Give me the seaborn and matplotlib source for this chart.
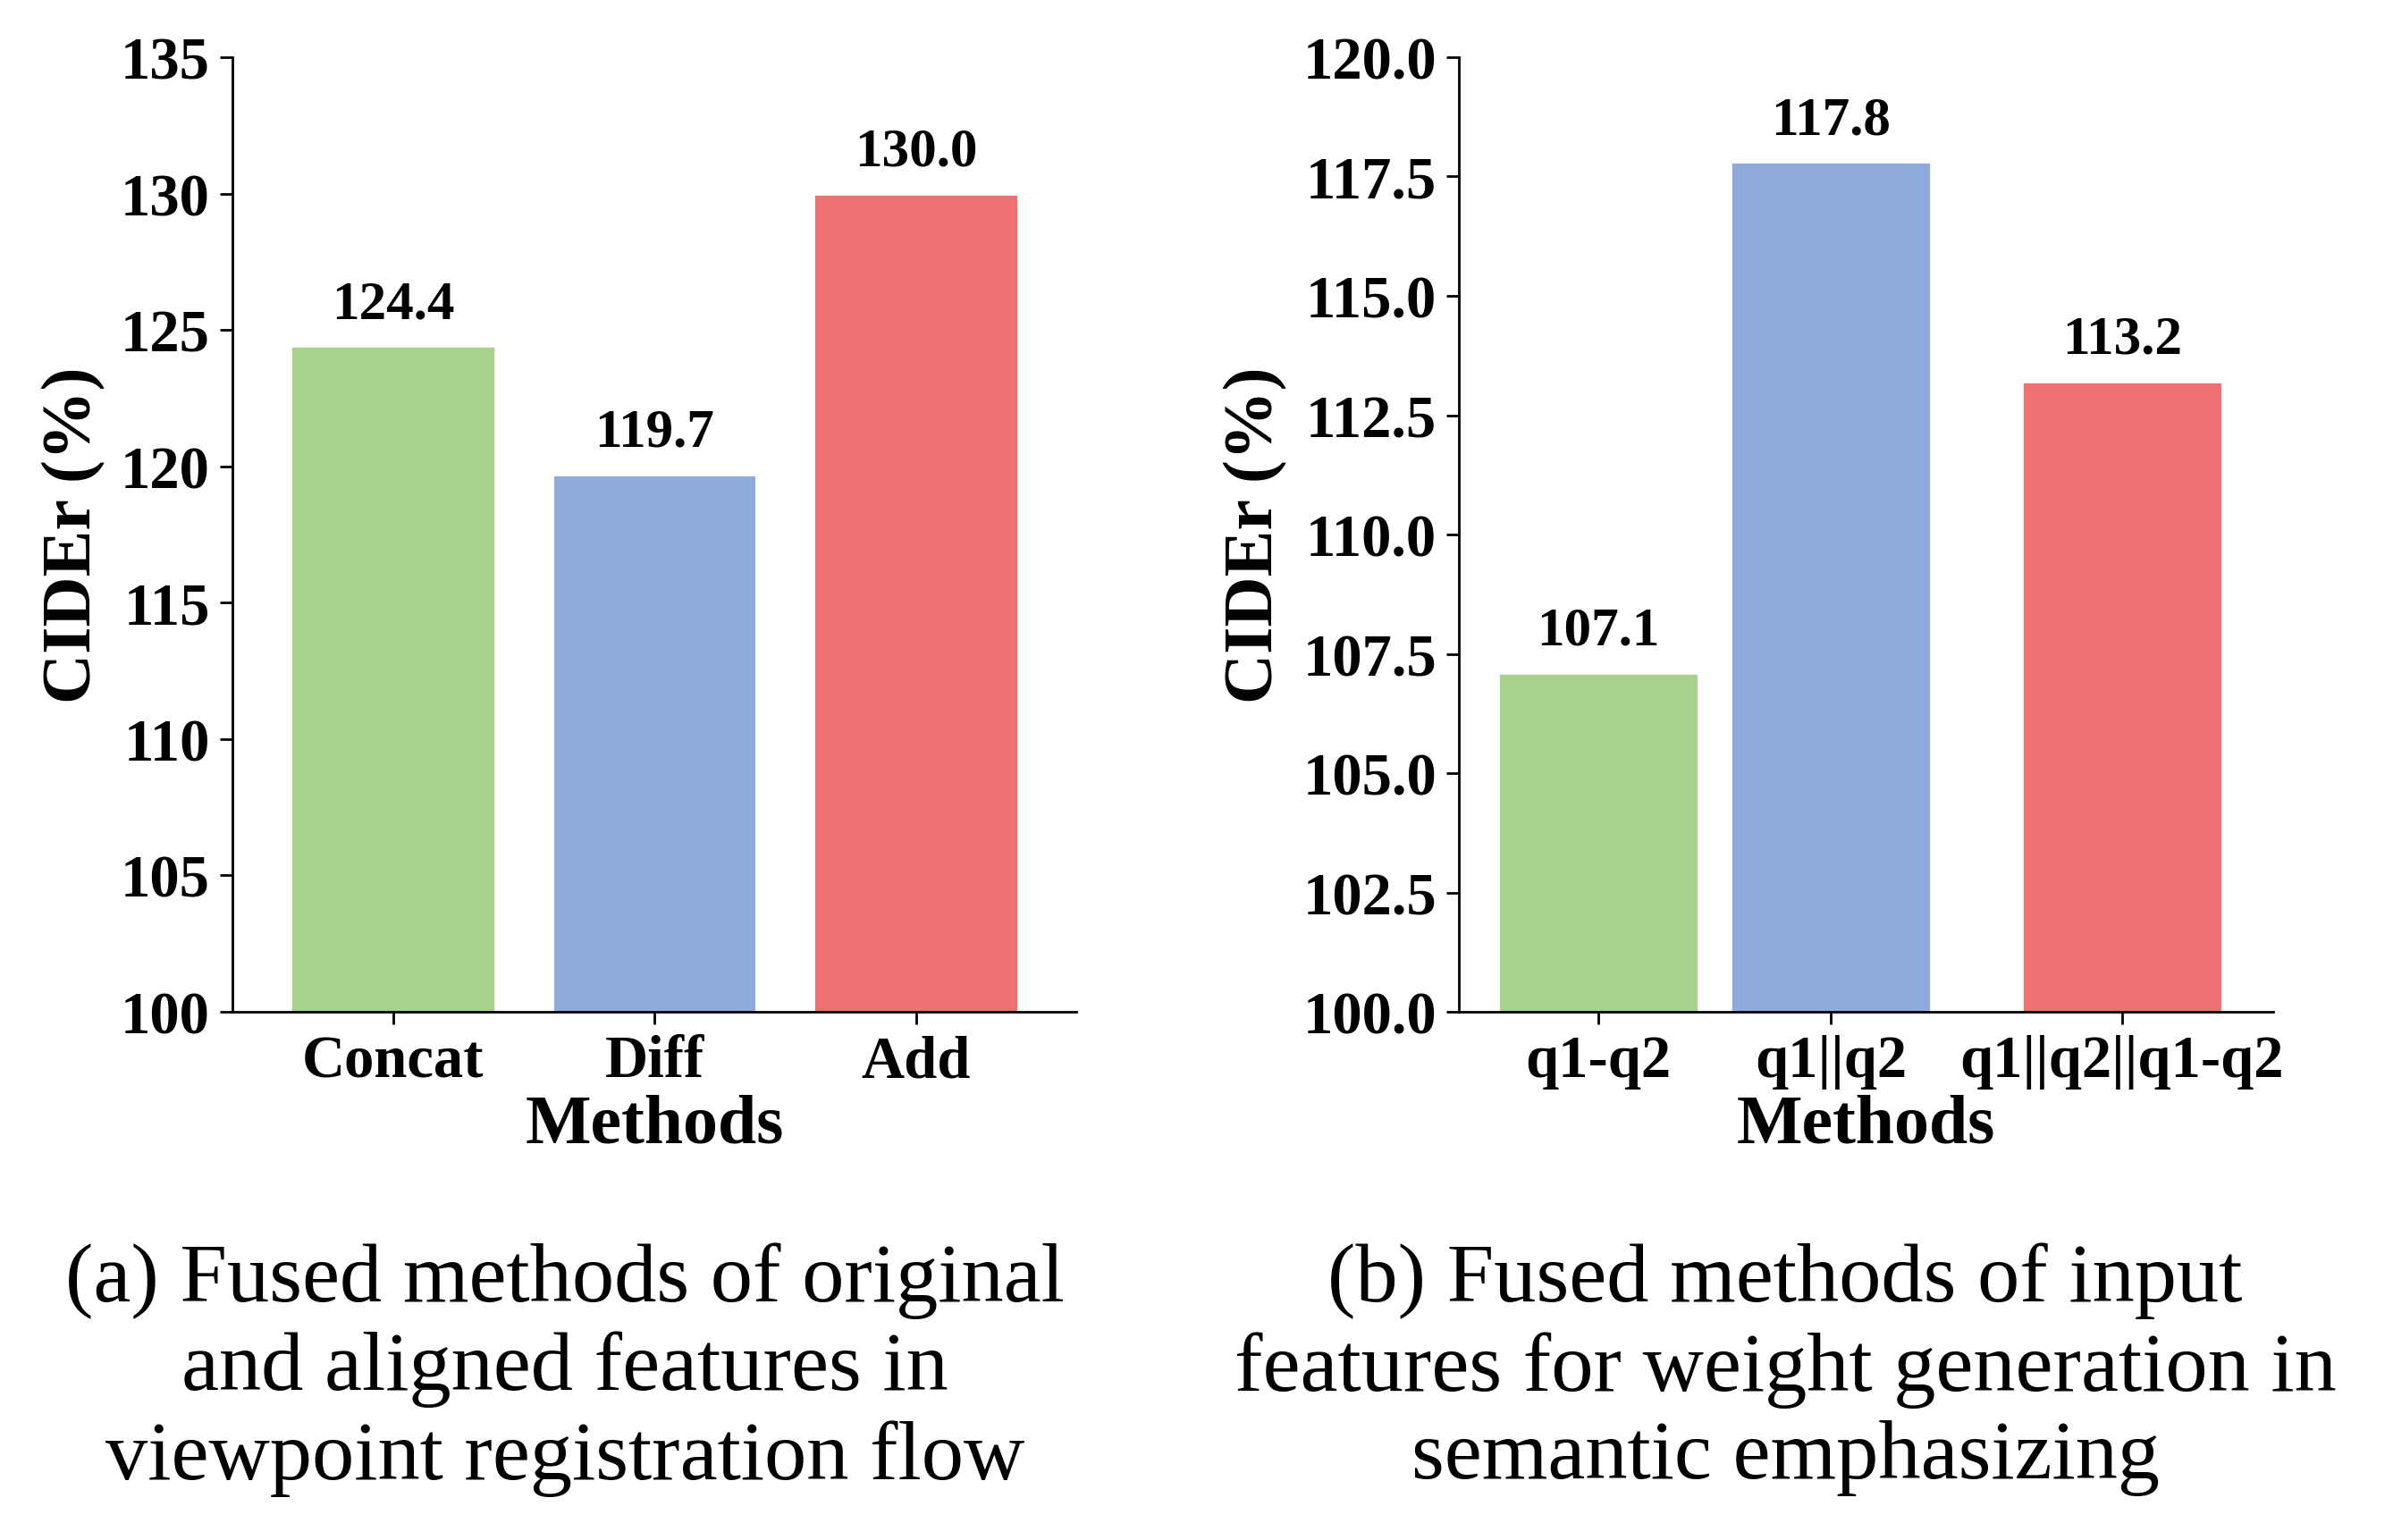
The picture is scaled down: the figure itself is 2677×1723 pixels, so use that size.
import pandas as pd
import matplotlib
matplotlib.use("Agg")
import matplotlib.pyplot as plt
import seaborn as sns

# data
methods_a = ['Concat', 'Diff', 'Add']
cider_a = [124.4, 119.7, 130.0]
methods_b = ['q1-q2', 'q1||q2', 'q1||q2||q1-q2']
cider_b = [107.1, 117.8, 113.2]

yticks_a = [100, 105, 110, 115, 120, 125, 130, 135]
yticks_b = [100.0, 102.5, 105.0, 107.5, 110.0, 112.5, 115.0, 117.5, 120.0]

caption_a = '(a) Fused methods of original\nand aligned features in\nviewpoint registration flow'
caption_b = '(b) Fused methods of input\nfeatures for weight generation in\nsemantic emphasizing'

# layout (bar centres, panel b is spaced unevenly)
pos_a = [0, 1, 2]
pos_b = [0, 1, 2.25]
colors = ['#a9d18e', '#8faadc', '#ee7272']

sns.set_style('ticks')
plt.rcParams['font.family'] = ['Liberation Serif', 'DejaVu Serif']
plt.rcParams['axes.linewidth'] = 1.0
plt.rcParams['text.color'] = 'black'
plt.rcParams['axes.labelcolor'] = 'black'
plt.rcParams['xtick.color'] = 'black'
plt.rcParams['ytick.color'] = 'black'
plt.rcParams['axes.edgecolor'] = 'black'

df_a = pd.DataFrame({'pos': pos_a, 'Method': methods_a, 'CIDEr': cider_a})
df_b = pd.DataFrame({'pos': pos_b, 'Method': methods_b, 'CIDEr': cider_b})

fig = plt.figure(figsize=(13.385, 8.62), dpi=200)
ax1 = fig.add_axes([0.0971, 0.3428, 0.3527, 0.6195])
ax2 = fig.add_axes([0.6096, 0.3428, 0.3403, 0.6195])

sns.barplot(data=df_a, x='pos', y='CIDEr', hue='Method', palette=colors, saturation=1,
            dodge=False, native_scale=True, width=0.78, legend=False, ax=ax1)
sns.barplot(data=df_b, x='pos', y='CIDEr', hue='Method', palette=colors, saturation=1,
            dodge=False, native_scale=True, width=0.86, legend=False, ax=ax2)

for ax, pos, names, ticks, fmt, xlim in [
        (ax1, pos_a, methods_a, yticks_a, '{:.0f}', (-0.614, 2.614)),
        (ax2, pos_b, methods_b, yticks_b, '{:.1f}', (-0.6, 2.9))]:
    ax.set_ylim(ticks[0], ticks[-1])
    ax.set_yticks(ticks)
    ax.set_yticklabels([fmt.format(t) for t in ticks], fontsize=24, fontweight='bold')
    ax.set_xticks(pos)
    ax.set_xticklabels(names, fontsize=24, fontweight='bold')
    ax.set_xlim(*xlim)
    ax.set_xlabel('Methods', fontsize=28, fontweight='bold', labelpad=2)
    ax.set_ylabel('CIDEr (%)', fontsize=28, fontweight='bold', labelpad=6)
    ax.tick_params(axis='both', length=5, width=1.0, direction='out', pad=4)
    sns.despine(ax=ax)
    for c in ax.containers:
        ax.bar_label(c, fmt='%.1f', padding=7, fontsize=22, fontweight='bold')

fig.text(0.236, 0.111, caption_a, ha='center', va='center', fontsize=34,
         linespacing=1.21)
fig.text(0.746, 0.111, caption_b, ha='center', va='center', fontsize=34,
         linespacing=1.21)

fig.savefig('out.png', dpi=200)
